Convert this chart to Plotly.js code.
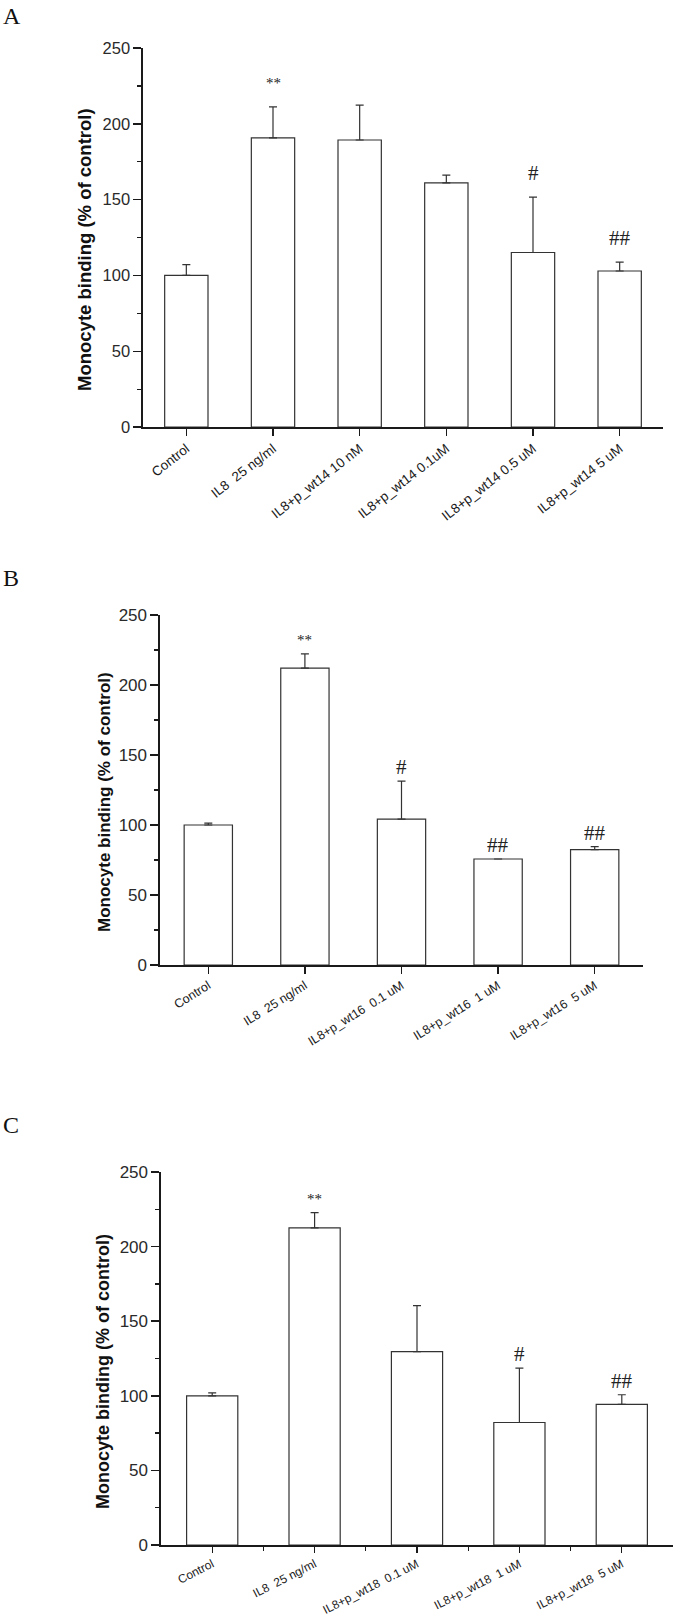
<!DOCTYPE html>
<html>
<head>
<meta charset="utf-8">
<script src="https://cdn.plot.ly/plotly-3.0.1.min.js"></script>
<style>html,body{margin:0;padding:0;background:#fff;}#chart{width:675px;height:1621px;}</style>
</head>
<body>
<div id="chart"></div>
<script>
// ---------- data ----------
const yTitle = 'Monocyte binding (% of control)';
const panelLetters = ['A', 'B', 'C'];

const catsA = ['Control', 'IL8  25 ng/ml', 'IL8+p_wt14 10 nM', 'IL8+p_wt14 0.1uM', 'IL8+p_wt14 0.5 uM', 'IL8+p_wt14 5 uM'];
const valsA = [100, 190.7, 189.3, 161, 115.1, 102.9];
const errA  = [7.1, 20.5, 23, 5.2, 36.5, 5.9];
const sigA  = ['', '**', '', '', '#', '##'];

const catsB = ['Control', 'IL8  25 ng/ml', 'IL8+p_wt16  0.1 uM', 'IL8+p_wt16  1 uM', 'IL8+p_wt16  5 uM'];
const valsB = [100, 212, 104.2, 75.7, 82.4];
const errB  = [1.4, 10.2, 27.1, 0, 2.1];
const sigB  = ['', '**', '#', '##', '##'];

const catsC = ['Control', 'IL8  25 ng/ml', 'IL8+p_wt18  0.1 uM', 'IL8+p_wt18  1 uM', 'IL8+p_wt18  5 uM'];
const valsC = [100, 212.6, 129.6, 82.1, 94.2];
const errC  = [1.9, 10.2, 30.9, 36.5, 6.5];
const sigC  = ['', '**', '', '#', '##'];

const yTickVals = [0, 50, 100, 150, 200, 250];

// ---------- layout helpers ----------
const W = 675, H = 1621;
const fx = p => p / W;
const fy = p => 1 - p / H;

const panels = [
  {cats: catsA, vals: valsA, err: errA, sig: sigA, xpx: [143, 663], ypx: [48, 427], letterY: 1, titleX: 84, titleY: 250, titleSize: 18.5, sigShift: 24, tickFont: 16.5, xFont: 13.5, angle: -38, xticklen: 7, minorX: false, narrow: false},
  {cats: catsB, vals: valsB, err: errB, sig: sigB, xpx: [160, 643], ypx: [615, 965], letterY: 563, titleX: 104, titleY: 802, titleSize: 17, sigShift: 14, tickFont: 17, xFont: 12.5, angle: -32, xticklen: 7, minorX: false, narrow: true},
  {cats: catsC, vals: valsC, err: errC, sig: sigC, xpx: [161, 673], ypx: [1172, 1545], letterY: 1110, titleX: 103, titleY: 1372, titleSize: 18, sigShift: 14, tickFont: 17, xFont: 12, angle: -27, xticklen: 6, minorX: true, narrow: true}
];

const ink = '#1a1a1a';
const barLine = '#333333';
const data = [];
const layout = {
  width: W, height: H,
  margin: {l: 0, r: 0, t: 0, b: 0},
  paper_bgcolor: '#ffffff', plot_bgcolor: '#ffffff',
  showlegend: false,
  font: {family: 'Liberation Sans, Arial, sans-serif', color: ink},
  annotations: []
};

panels.forEach((p, k) => {
  const s = k === 0 ? '' : String(k + 1);
  const idx = p.cats.map((_, i) => i);
  data.push({
    type: 'bar',
    x: idx, y: p.vals,
    width: 0.5,
    marker: {color: '#ffffff', line: {color: barLine, width: 1.2}},
    error_y: {type: 'data', symmetric: false, array: p.err, arrayminus: p.err.map(() => 0),
              color: barLine, thickness: 1.2, width: 4},
    xaxis: 'x' + s, yaxis: 'y' + s,
    hoverinfo: 'x+y'
  });
  const tickFam = p.narrow ? 'Liberation Sans Narrow, Arial Narrow, Liberation Sans, sans-serif' : 'Liberation Sans, Arial, sans-serif';
  const xa = {
    domain: [fx(p.xpx[0]), fx(p.xpx[1])],
    anchor: 'y' + s,
    range: [-0.5, p.cats.length - 0.5],
    tickmode: 'array', tickvals: idx,
    ticktext: p.cats.map(c => c.replace(/  /g, ' \u00a0')),
    tickangle: p.angle,
    showline: true, linecolor: ink, linewidth: 1.6,
    ticks: 'outside', ticklen: p.xticklen, tickwidth: 1.4, tickcolor: ink,
    showgrid: false, zeroline: false, fixedrange: true,
    tickfont: {size: p.xFont, color: ink, family: 'Liberation Sans, Arial, sans-serif'}
  };
  if (p.minorX) {
    xa.minor = {tickmode: 'array', tickvals: idx.slice(1).map(i => i - 0.5), ticks: 'outside', ticklen: 4, tickwidth: 1.2, tickcolor: ink, showgrid: false};
  }
  const ya = {
    domain: [fy(p.ypx[1]), fy(p.ypx[0])],
    anchor: 'x' + s,
    range: [0, 250],
    tickmode: 'array', tickvals: yTickVals,
    showline: true, linecolor: ink, linewidth: 1.6,
    ticks: 'outside', ticklen: 8, tickwidth: 1.4, tickcolor: ink,
    minor: {dtick: 25, tick0: 0, ticks: 'outside', ticklen: 4, tickwidth: 1.2, tickcolor: ink, showgrid: false},
    showgrid: false, zeroline: false, fixedrange: true,
    tickfont: {size: p.tickFont, color: '#2a2a2a', family: tickFam}
  };
  layout['xaxis' + s] = xa;
  layout['yaxis' + s] = ya;

  // axis title (rotated)
  layout.annotations.push({
    xref: 'paper', yref: 'paper', x: fx(p.titleX), y: fy(p.titleY),
    xanchor: 'center', yanchor: 'middle', textangle: -90, showarrow: false,
    text: yTitle,
    font: {family: 'Liberation Sans, Arial, sans-serif', size: p.titleSize, weight: 'bold', color: '#111'}
  });
  // panel letter
  layout.annotations.push({
    xref: 'paper', yref: 'paper', x: fx(1), y: fy(p.letterY),
    xanchor: 'left', yanchor: 'top', showarrow: false,
    text: panelLetters[k],
    font: {family: 'Liberation Serif, Times New Roman, serif', size: 24, color: '#111'}
  });
  // significance marks
  p.sig.forEach((t, i) => {
    if (!t) return;
    layout.annotations.push({
      xref: 'x' + s, yref: 'y' + s, x: i, y: p.vals[i] + p.err[i],
      xanchor: 'center', yanchor: 'middle', yshift: p.sigShift, showarrow: false,
      text: t,
      font: {family: 'Liberation Serif, Times New Roman, serif', size: t === '**' ? 15 : 21, color: '#222'}
    });
  });
});

Plotly.newPlot('chart', data, layout, {staticPlot: true, displayModeBar: false});
</script>
</body>
</html>
